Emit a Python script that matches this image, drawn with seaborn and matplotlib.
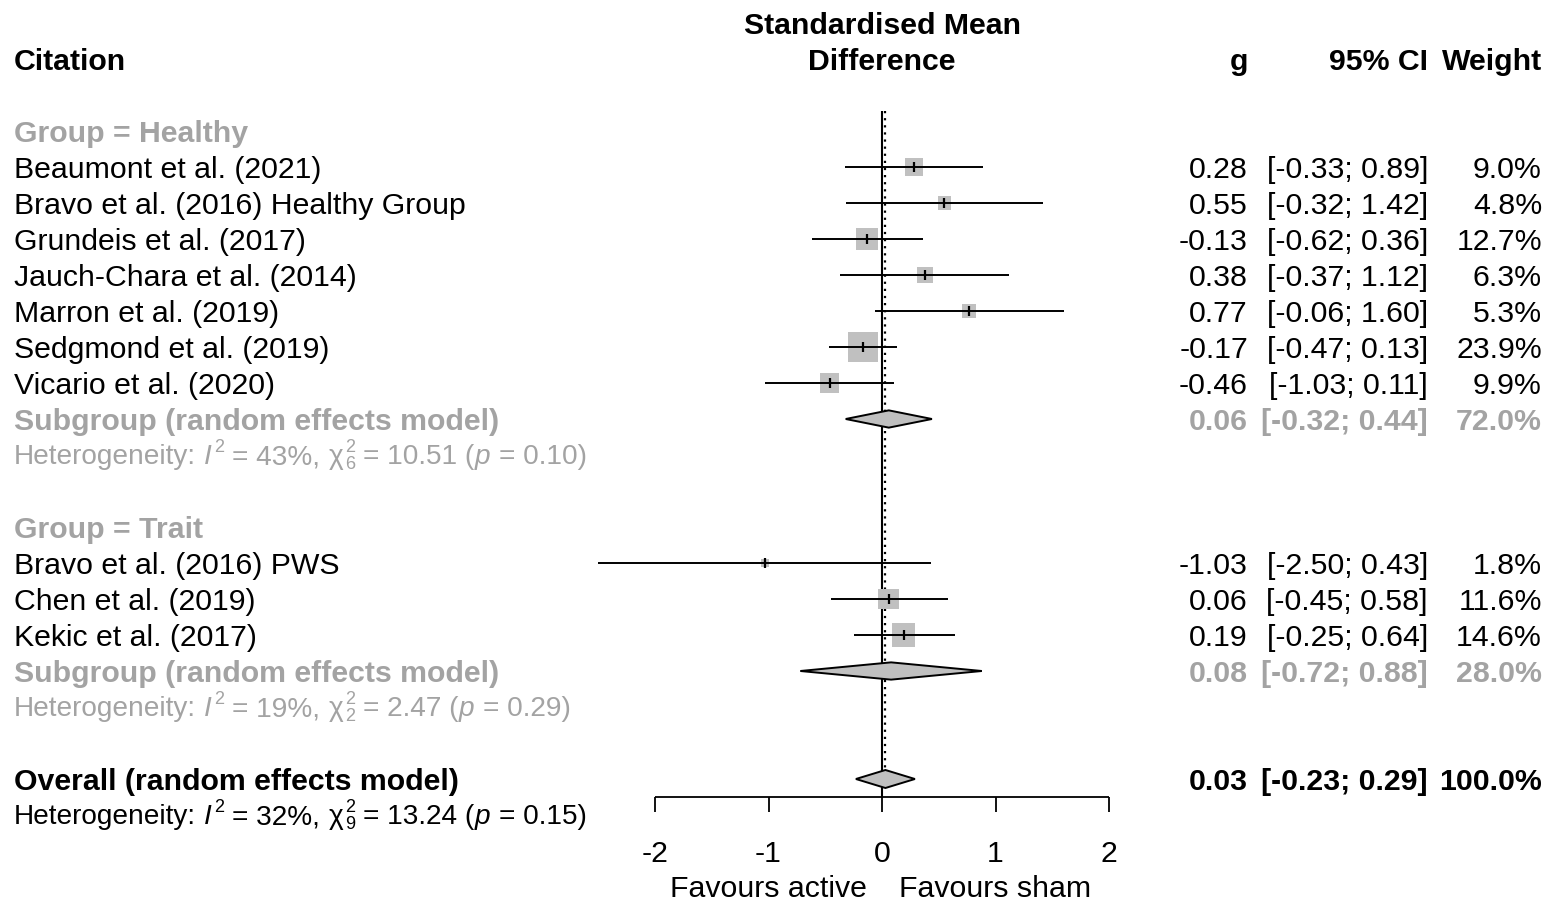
import matplotlib
matplotlib.use("Agg")
import matplotlib.pyplot as plt
import numpy as np
import pandas as pd
import seaborn as sns
from matplotlib.patches import Polygon
from matplotlib.font_manager import FontProperties

# ---- study-level data -------------------------------------------------------
studies = ["Beaumont et al. (2021)", "Bravo et al. (2016) Healthy Group",
           "Grundeis et al. (2017)", "Jauch-Chara et al. (2014)",
           "Marron et al. (2019)", "Sedgmond et al. (2019)", "Vicario et al. (2020)",
           "Bravo et al. (2016) PWS", "Chen et al. (2019)", "Kekic et al. (2017)"]
groups = ["Healthy"] * 7 + ["Trait"] * 3
g_est = [0.28, 0.55, -0.13, 0.38, 0.77, -0.17, -0.46, -1.03, 0.06, 0.19]
ci_low = [-0.33, -0.32, -0.62, -0.37, -0.06, -0.47, -1.03, -2.50, -0.45, -0.25]
ci_high = [0.89, 1.42, 0.36, 1.12, 1.60, 0.13, 0.11, 0.43, 0.58, 0.64]
weights = [9.0, 4.8, 12.7, 6.3, 5.3, 23.9, 9.9, 1.8, 11.6, 14.6]

# ---- subgroup summaries -----------------------------------------------------
sub_names = ["Healthy", "Trait"]
sub_g = [0.06, 0.08]
sub_low = [-0.32, -0.72]
sub_high = [0.44, 0.88]
sub_weight = [72.0, 28.0]
sub_i2 = [43, 19]
sub_q = [10.51, 2.47]
sub_df = [6, 2]
sub_p = [0.10, 0.29]

# ---- overall summary --------------------------------------------------------
all_g, all_low, all_high, all_weight = 0.03, -0.23, 0.29, 100.0
all_i2, all_q, all_df, all_p = 32, 13.24, 9, 0.15

x_ticks = [-2, -1, 0, 1, 2]
x_axis_labels = ["Favours active", "Favours sham"]

# ---- style ------------------------------------------------------------------
sns.set_style("white")
FAMILY = ["Liberation Sans", "DejaVu Sans"]
plt.rcParams["font.family"] = FAMILY
plt.rcParams["text.color"] = "black"
plt.rcParams["axes.unicode_minus"] = False

FS = 21.8
FS_HET = 20.2
FS_SCRIPT = FS_HET * 0.64
GREY_TXT = "#a3a3a3"
GREY_FILL = "#c0c0c0"
VA = "center_baseline"

W, H, DPI = 1550, 901, 100
fig = plt.figure(figsize=(W / DPI, H / DPI), dpi=DPI)
ax = fig.add_axes([0, 0, 1, 1])
ax.set_axis_off()

# horizontal scale: effect-size units, 113.5 px per unit, zero at x=882 px
PX_PER_UNIT, X0_PX = 113.5, 882
ROW_PX, ROW0_PX = 36, 131


def px(x):
    return (x - X0_PX) / PX_PER_UNIT


ax.set_xlim(px(0), px(W))
ax.set_ylim((H - ROW0_PX) / ROW_PX, -ROW0_PX / ROW_PX)

# ---- row layout ---------------------------------------------------------------
rows = []
r = 0
group_rows, sub_rows, het_rows = [], [], []
for name in sub_names:
    group_rows.append(r)
    r += 1
    for s, grp in zip(studies, groups):
        if grp == name:
            rows.append(r)
            r += 1
    sub_rows.append(r)
    het_rows.append(r + 1)
    r += 3
overall_row = r
overall_het_row = overall_row + 1
axis_row = overall_row + 0.5

df = pd.DataFrame({"study": studies, "group": groups, "g": g_est,
                   "low": ci_low, "high": ci_high, "weight": weights, "row": rows})

# ---- column positions (px) ----------------------------------------------------
X_LABEL_PX = 14
X_LABEL = px(X_LABEL_PX)
X_G = px(1248)
X_CI = px(1428)
X_W = px(1542)

# ---- reference lines ----------------------------------------------------------
top_row = -0.55
ax.vlines(0, top_row, axis_row, color="black", lw=1.5, zorder=1)
ax.vlines(all_g, top_row, overall_row - 0.27, color="black", lw=1.6,
          linestyles=(0, (1, 2.2)), zorder=1)

# ---- study squares, CIs and point ticks --------------------------------------
side_px = 6.15 * np.sqrt(df["weight"].to_numpy())
sizes = (side_px * 72 / DPI) ** 2
sns.scatterplot(data=df, x="g", y="row", marker="s", s=sizes, color=GREY_FILL,
                edgecolor="none", linewidth=0, legend=False, ax=ax, zorder=2)
ax.hlines(df["row"], df["low"], df["high"], color="black", lw=1.4, zorder=3)
ax.plot(df["g"], df["row"], ls="none", marker="|", ms=7, mew=1.6,
        color="black", zorder=4)


def diamond(est, low, high, row, half=0.24):
    poly = Polygon([(low, row), (est, row - half), (high, row), (est, row + half)],
                   closed=True, facecolor=GREY_FILL, edgecolor="black", lw=1.4,
                   zorder=4)
    ax.add_patch(poly)


# ---- heterogeneity line built from plain, italic and script pieces ----------
renderer = fig.canvas.get_renderer()


def text_width(s, size, style="normal"):
    fp = FontProperties(family=FAMILY, size=size, style=style)
    w, h, d = renderer.get_text_width_height_descent(s, fp, ismath=False)
    return w


SPACE_W = text_width("a a", FS_HET) - text_width("aa", FS_HET)
_fp = FontProperties(family=FAMILY, size=FS)
_, _lp_h, _lp_d = renderer.get_text_width_height_descent("lp", _fp, ismath=False)
BASELINE_SHIFT = ((_lp_h - _lp_d) / 2 - 2) / ROW_PX
SUP_RISE = 12 / ROW_PX
SUB_DROP = 5 / ROW_PX
PAD = 0.5


def het_pieces(i2, q, dfree, p):
    return [("rm", "Heterogeneity: "), ("it", "I"), ("sup", "2"),
            ("rm", f" = {i2}%, "), ("rm", "\u03c7"), ("supsub", ("2", f"{dfree}")),
            ("rm", f" = {q:.2f} ("), ("it", "p"), ("rm", f" = {p:.2f})")]


def het_text(row, pieces, color):
    cur = X_LABEL_PX
    base = row + BASELINE_SHIFT
    for kind, s in pieces:
        if kind in ("rm", "it"):
            style = "italic" if kind == "it" else "normal"
            core = s.strip(" ")
            lead = len(s) - len(s.lstrip(" "))
            trail = len(s) - len(s.rstrip(" "))
            cur += lead * SPACE_W
            ax.text(px(cur), base, core, ha="left", va="baseline", fontsize=FS_HET,
                    style=style, color=color)
            cur += text_width(core, FS_HET, style) + PAD + trail * SPACE_W
        elif kind == "sup":
            cur += 1.5
            ax.text(px(cur), base - SUP_RISE, s, ha="left", va="baseline",
                    fontsize=FS_SCRIPT, color=color)
            cur += text_width(s, FS_SCRIPT) + PAD
        else:
            sup, sb = s
            cur += 1
            ax.text(px(cur), base - SUP_RISE, sup, ha="left", va="baseline",
                    fontsize=FS_SCRIPT, color=color)
            ax.text(px(cur), base + SUB_DROP, sb, ha="left", va="baseline",
                    fontsize=FS_SCRIPT, color=color)
            cur += max(text_width(sup, FS_SCRIPT), text_width(sb, FS_SCRIPT)) + PAD


def stats_row(row, est, low, high, w, color, weight="normal"):
    ax.text(X_G, row, f"{est:.2f}", ha="right", va=VA, fontsize=FS,
            color=color, fontweight=weight)
    ax.text(X_CI, row, f"[{low:.2f}; {high:.2f}]", ha="right", va=VA,
            fontsize=FS, color=color, fontweight=weight)
    ax.text(X_W, row, f"{w:.1f}%", ha="right", va=VA, fontsize=FS,
            color=color, fontweight=weight)


# ---- headers -----------------------------------------------------------------
ax.text(X_LABEL, -2, "Citation", ha="left", va=VA, fontsize=FS, fontweight="bold")
ax.text(0, -3, "Standardised Mean", ha="center", va=VA, fontsize=FS,
        fontweight="bold")
ax.text(0, -2, "Difference", ha="center", va=VA, fontsize=FS, fontweight="bold")
ax.text(X_G, -2, "g", ha="right", va=VA, fontsize=FS, fontweight="bold")
ax.text(X_CI, -2, "95% CI", ha="right", va=VA, fontsize=FS, fontweight="bold")
ax.text(X_W, -2, "Weight", ha="right", va=VA, fontsize=FS, fontweight="bold")

# ---- group blocks ------------------------------------------------------------
for i, name in enumerate(sub_names):
    ax.text(X_LABEL, group_rows[i], f"Group = {name}", ha="left", va=VA,
            fontsize=FS, fontweight="bold", color=GREY_TXT)
    sub = df[df["group"] == name]
    for _, rr in sub.iterrows():
        ax.text(X_LABEL, rr["row"], rr["study"], ha="left", va=VA, fontsize=FS)
        stats_row(rr["row"], rr["g"], rr["low"], rr["high"], rr["weight"], "black")
    ax.text(X_LABEL, sub_rows[i], "Subgroup (random effects model)", ha="left",
            va=VA, fontsize=FS, fontweight="bold", color=GREY_TXT)
    stats_row(sub_rows[i], sub_g[i], sub_low[i], sub_high[i], sub_weight[i],
              GREY_TXT, "bold")
    diamond(sub_g[i], sub_low[i], sub_high[i], sub_rows[i])
    het_text(het_rows[i], het_pieces(sub_i2[i], sub_q[i], sub_df[i], sub_p[i]),
             GREY_TXT)

# ---- overall -----------------------------------------------------------------
ax.text(X_LABEL, overall_row, "Overall (random effects model)", ha="left",
        va=VA, fontsize=FS, fontweight="bold")
stats_row(overall_row, all_g, all_low, all_high, all_weight, "black", "bold")
diamond(all_g, all_low, all_high, overall_row, half=0.25)
het_text(overall_het_row, het_pieces(all_i2, all_q, all_df, all_p), "black")

# ---- x axis ------------------------------------------------------------------
ax.hlines(axis_row, min(x_ticks), max(x_ticks), color="black", lw=1.3)
ax.vlines(x_ticks, axis_row, axis_row + 0.43, color="black", lw=1.3)
for t in x_ticks:
    ax.text(t, axis_row + 1.5, f"{t}", ha="center", va=VA, fontsize=FS)
ax.text(-1, axis_row + 2.47, x_axis_labels[0], ha="center", va=VA, fontsize=FS)
ax.text(1, axis_row + 2.47, x_axis_labels[1], ha="center", va=VA, fontsize=FS)

fig.savefig("out.png", dpi=DPI, facecolor="white")
